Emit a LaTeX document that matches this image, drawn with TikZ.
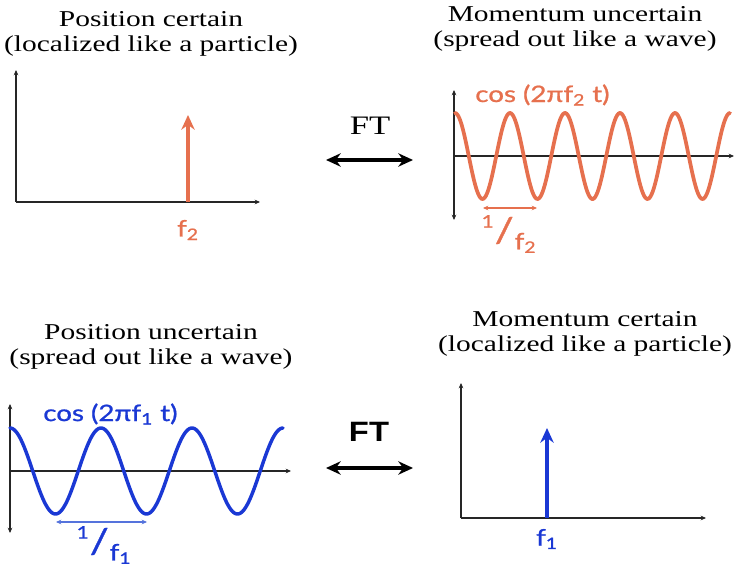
\documentclass[tikz,border=0pt]{standalone}
\usepackage{fontspec}
\setmainfont{Liberation Serif}
\newfontfamily\gs[FakeBold=0.9]{Lato}
\newfontfamily\ar{Liberation Sans}
\usetikzlibrary{arrows.meta}
\definecolor{orng}{RGB}{230,112,78}
\definecolor{blu}{RGB}{26,56,212}
\definecolor{lblu}{RGB}{85,115,220}
\newcommand{\recip}[1]{\raisebox{1.3ex}{\fontsize{13}{13}\selectfont 1}\hspace{0.5pt}{\fontsize{26}{26}\selectfont /}\hspace{0.5pt}\raisebox{-0.6ex}{f\textsubscript{#1}}}
\begin{document}
\begin{tikzpicture}[x=0.75pt,y=-0.75pt,
  ttl/.style={font=\fontsize{17}{18.5}\selectfont, align=center, inner sep=0pt, xscale=1.3, transform shape},
  axis/.style={line width=0.8pt, black!85},
  ahead/.style={-{Stealth[length=4pt,width=3.5pt]}},
  bhead/.style={{Stealth[length=4pt,width=3.5pt]}-{Stealth[length=4pt,width=3.5pt]}},
  ftarrow/.style={line width=2.4pt, {Stealth[length=11pt,width=10pt]}-{Stealth[length=11pt,width=10pt]}},
  spike/.style={line width=3pt, -{Stealth[length=11pt,width=10pt]}},
  lbl/.style={font=\gs\fontsize{17}{18}\selectfont, inner sep=0pt, xscale=1.22, transform shape},
  owave/.style={orng, line width=2.8pt, line cap=round},
  bwave/.style={blu, line width=2.6pt, line cap=round}]
\useasboundingbox (0,0) rectangle (735,566);
% ---------- top-left ----------
\node[ttl] (t1) at (151,34) {Position certain\\(localized like a particle)};
\coordinate (o1) at (16,202);
\coordinate (y1) at (16,70);
\coordinate (x1) at (260,202);
\draw[axis,ahead] (o1) -- (y1);
\draw[axis,ahead] (o1) -- (x1);
\coordinate (s1b) at (188,202);
\coordinate (s1t) at (188,115);
\draw[orng, spike] (s1b) -- (s1t);
\node[lbl, orng] (f2a) at (188,230) {f\textsubscript{2}};
% ---------- top-right ----------
\node[ttl] (t2) at (575,29) {Momentum uncertain\\(spread out like a wave)};
\coordinate (y2a) at (454,90);
\coordinate (y2b) at (454,220);
\coordinate (o2) at (454,156);
\coordinate (x2) at (734,156);
\draw[axis,bhead] (y2b) -- (y2a);
\draw[axis,ahead] (o2) -- (x2);
\draw[owave, domain=455:730, samples=250, smooth] plot (\x,{156-43*cos(6.54545*(\x-455))});
\node[lbl, orng, anchor=west] (c2) at (475,95) {cos (2πf\textsubscript{2} t)};
\coordinate (p2a) at (483,208);
\coordinate (p2b) at (537,208);
\draw[orng, line width=1pt, bhead] (p2a) -- (p2b);
\node[lbl, orng] (r2) at (509,234) {\recip{2}};
% ---------- FT top ----------
\node[font=\fontsize{20}{22}\selectfont, inner sep=0pt, xscale=1.3, transform shape] (ft1) at (370,126) {FT};
\coordinate (fa1) at (326,160);
\coordinate (fb1) at (413,160);
\draw[ftarrow] (fa1) -- (fb1);
% ---------- bottom-left ----------
\node[ttl] (t3) at (151,347) {Position uncertain\\(spread out like a wave)};
\coordinate (y3a) at (10,404);
\coordinate (y3b) at (10,533);
\coordinate (o3) at (10,471);
\coordinate (x3) at (291,471);
\draw[axis,bhead] (y3b) -- (y3a);
\draw[axis,ahead] (o3) -- (x3);
\draw[bwave, domain=10:283, samples=250, smooth] plot (\x,{471-43*cos(3.95604*(\x-10))});
\node[lbl, blu, anchor=west] (c3) at (43,414) {cos (2πf\textsubscript{1} t)};
\coordinate (p3a) at (56,522);
\coordinate (p3b) at (147,522);
\draw[lblu, line width=1pt, bhead] (p3a) -- (p3b);
\node[lbl, blu] (r3) at (104,545) {\recip{1}};
% ---------- FT bottom ----------
\node[font=\ar\bfseries\fontsize{21}{23}\selectfont, inner sep=0pt, xscale=1.17, transform shape] (ft2) at (369,432) {FT};
\coordinate (fa2) at (326,468);
\coordinate (fb2) at (413,468);
\draw[ftarrow] (fa2) -- (fb2);
% ---------- bottom-right ----------
\node[ttl] (t4) at (585,334) {Momentum certain\\(localized like a particle)};
\coordinate (o4) at (461,518);
\coordinate (y4) at (461,383);
\coordinate (x4) at (706,518);
\draw[axis,ahead] (o4) -- (y4);
\draw[axis,ahead] (o4) -- (x4);
\coordinate (s4b) at (547,518);
\coordinate (s4t) at (547,428);
\draw[blu, spike] (s4b) -- (s4t);
\node[lbl, blu] (f1a) at (547,539) {f\textsubscript{1}};
\end{tikzpicture}
\end{document}
